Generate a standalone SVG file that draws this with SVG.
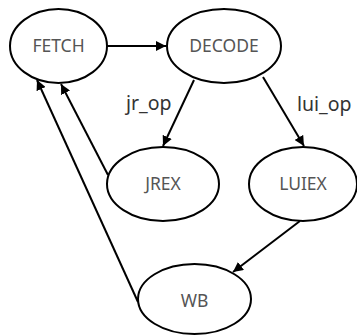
<svg xmlns="http://www.w3.org/2000/svg" width="357" height="335" viewBox="0 0 357 335">
<style>
.node ellipse{fill:#fff;stroke:#000;stroke-width:2}
.node text{font-family:"Noto Sans","Liberation Sans",sans-serif;font-size:17.5px;fill:#555;text-anchor:middle}
.edge{stroke:#000;stroke-width:2;fill:none;marker-end:url(#ah)}
.lbl{font-family:"Noto Sans","Liberation Sans",sans-serif;font-size:19.5px;fill:#333}
</style>
<defs>
<marker id="ah" viewBox="0 0 10 10" refX="10" refY="5" markerWidth="5" markerHeight="5" orient="auto" markerUnits="strokeWidth">
<path d="M0,0 L10,5 L0,10 Z" fill="#000"/>
</marker>
</defs>
<rect width="357" height="335" fill="#fff"/>
<g id="connectors">
<line class="edge" x1="107" y1="46" x2="166" y2="46"/>
<line class="edge" x1="194" y1="80" x2="163" y2="146"/>
<line class="edge" x1="263" y1="77" x2="304" y2="146"/>
<line class="edge" x1="300" y1="221" x2="233" y2="272"/>
<line class="edge" x1="108" y1="175" x2="61" y2="84"/>
<line class="edge" x1="138" y1="302" x2="37" y2="80"/>
<text class="lbl" x="126" y="110">jr_op</text>
<text class="lbl" x="297" y="111">lui_op</text>
</g>
<g id="FETCH" class="node"><ellipse cx="58.5" cy="46" rx="48.5" ry="37"/><text x="58.5" y="52">FETCH</text></g>
<g id="DECODE" class="node"><ellipse cx="224" cy="46" rx="57" ry="37"/><text x="224" y="52">DECODE</text></g>
<g id="JREX" class="node"><ellipse cx="163" cy="184" rx="56" ry="37"/><text x="163" y="190">JREX</text></g>
<g id="LUIEX" class="node"><ellipse cx="303" cy="184" rx="54" ry="37"/><text x="303" y="190">LUIEX</text></g>
<g id="WB" class="node"><ellipse cx="194.5" cy="299" rx="56.5" ry="35"/><text x="194.5" y="307">WB</text></g>
</svg>
